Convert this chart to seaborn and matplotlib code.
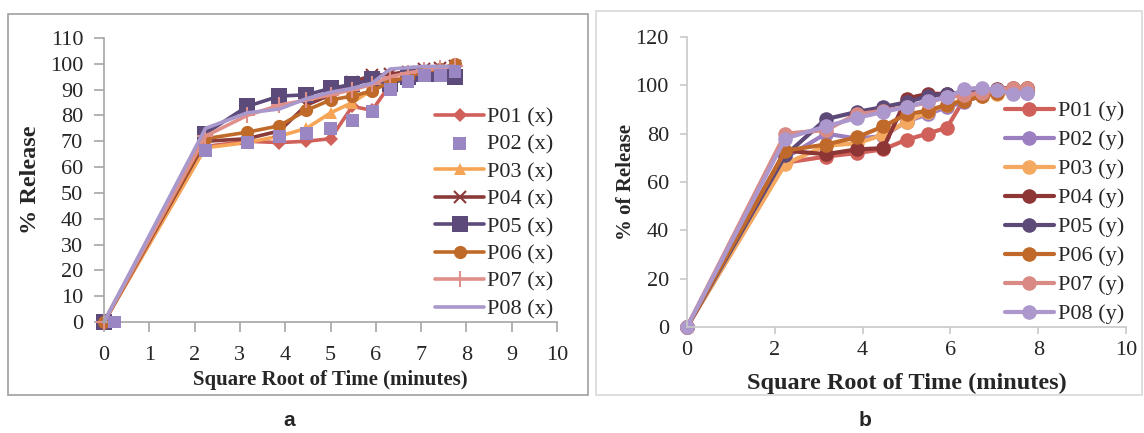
import matplotlib
matplotlib.use("Agg")
import matplotlib.pyplot as plt
import seaborn as sns
from matplotlib.patches import Rectangle

sns.set_style("white")
plt.rcParams['font.family'] = ['Liberation Serif', 'DejaVu Serif']

# square root of time (minutes) for the sampling points
sqrt_time = [0, 2.24, 3.16, 3.87, 4.47, 5.0, 5.48, 5.92, 6.32, 6.71, 7.07, 7.42, 7.75]
sqrt_time_p02 = [0.24, 2.24, 3.16, 3.87, 4.47, 5.0, 5.48, 5.92, 6.32, 6.71, 7.07, 7.42, 7.75]

# panel a: % release (x formulations)
rel_x = {
    "P01": [0, 68, 70, 69.5, 70, 71, 83.5, 82, 92, 95, 97, 98, 99.5],
    "P02": [0, 66.5, 69.5, 72, 73, 75, 78, 81.5, 90, 93, 95.5, 95.5, 97],
    "P03": [0, 67.5, 69.5, 72, 75, 81, 85, 90, 93, 95, 97, 98, 99],
    "P04": [0, 70, 71, 74, 84, 88, 93, 95.5, 96, 97, 98, 98.5, 99],
    "P05": [0, 73, 83.5, 87.5, 88, 90.5, 92, 94, 92, 95, 96, 96, 95],
    "P06": [0, 71, 73.5, 76, 82, 86, 87.5, 89.5, 93, 95, 97, 98, 100],
    "P07": [0, 72, 80, 84, 86, 88, 90, 92, 95, 96.5, 97.5, 98.5, 99],
    "P08": [0, 75, 81, 82.5, 86.5, 89, 90.5, 92.5, 98, 98.5, 99, 99, 99],
}

# panel b: % of release (y formulations)
rel_y = {
    "P01": [0, 68, 70.5, 72, 73.5, 77.5, 80, 82.5, 94.5, 96.5, 97.5, 98.5, 98.5],
    "P02": [0, 70, 80, 78, 79, 85, 88, 91, 93, 96, 97, 97, 97],
    "P03": [0, 67.5, 75, 76, 79.5, 85, 89, 92, 94, 95.5, 96.5, 97, 98],
    "P04": [0, 73, 71.5, 73.5, 74, 94.5, 96.5, 96.5, 97, 98, 98.5, 99, 99],
    "P05": [0, 71, 86, 89, 91, 93, 95.5, 96.5, 97, 98, 98, 98.5, 98],
    "P06": [0, 73, 75.5, 78.5, 83, 88, 89.5, 92, 93.5, 95.5, 97, 98, 99],
    "P07": [0, 80, 81.5, 88, 89.5, 91, 93, 95, 96, 97, 98, 99, 99],
    "P08": [0, 78, 83, 86.5, 89, 91, 93.5, 95, 98.5, 99, 98, 96.5, 97],
}

colors_a = {"P01": "#D0605A", "P02": "#9A86C2", "P03": "#F5A555", "P04": "#8B3A3A",
            "P05": "#5C4A7A", "P06": "#C06A2A", "P07": "#E0908A", "P08": "#A898CC"}
markers_a = {"P01": "D", "P02": "s", "P03": "^", "P04": "x",
             "P05": "s", "P06": "o", "P07": "+", "P08": None}
msize_a = {"P01": 7.5, "P02": 9, "P03": 9, "P04": 9, "P05": 11, "P06": 9.5, "P07": 11, "P08": 0}
colors_b = {"P01": "#D0605A", "P02": "#9C7FC0", "P03": "#F4A860", "P04": "#8E3535",
            "P05": "#5E4A78", "P06": "#C0692A", "P07": "#DA8A85", "P08": "#AC98CC"}

fig = plt.figure(figsize=(11.44, 4.33), dpi=100)

# grey frames round each panel
fig.patches.append(Rectangle((8 / 1144, 1 - 395 / 433), 580 / 1144, 381 / 433,
                             transform=fig.transFigure, fill=False, ec="#A0A0A0", lw=1.2))
fig.patches.append(Rectangle((596 / 1144, 1 - 395 / 433), 546 / 1144, 384 / 433,
                             transform=fig.transFigure, fill=False, ec="#D8D8D8", lw=1.2))

ax1 = fig.add_axes([104 / 1144, 1 - 322 / 433, 453 / 1144, 284 / 433])
ax2 = fig.add_axes([687 / 1144, 1 - 327 / 433, 439 / 1144, 290 / 433])

for name, vals in rel_x.items():
    c = colors_a[name]
    if name == "P02":
        sns.scatterplot(x=sqrt_time_p02, y=vals, ax=ax1, color=c, marker="s",
                        s=85, edgecolor="none", label=f"{name} (x)", zorder=3, clip_on=False)
    else:
        thin = name in ("P04", "P07")
        sns.lineplot(x=sqrt_time, y=vals, ax=ax1, color=c, lw=2.6,
                     marker=markers_a[name], markersize=msize_a[name],
                     mec=c, mfc=c, mew=1.5 if thin else 0,
                     label=f"{name} (x)", zorder=2, clip_on=False)

for name, vals in rel_y.items():
    c = colors_b[name]
    sns.lineplot(x=sqrt_time, y=vals, ax=ax2, color=c, lw=3,
                 marker="o", markersize=10.5, mec=c, mfc=c, mew=0,
                 label=f"{name} (y)", zorder=2, clip_on=False)

ax1.set_xlim(0, 10)
ax1.set_ylim(0, 110)
ax1.set_xticks(range(0, 11))
ax1.set_yticks(range(0, 111, 10))
ax2.set_xlim(0, 10)
ax2.set_ylim(0, 120)
ax2.set_xticks(range(0, 11, 2))
ax2.set_yticks(range(0, 121, 20))

for ax, spc, tl in ((ax1, "#A6A6A6", 7), (ax2, "#C8C8C8", 5)):
    ax.set_facecolor("none")
    for s in ("top", "right"):
        ax.spines[s].set_visible(False)
    for s in ("left", "bottom"):
        ax.spines[s].set_color(spc)
        ax.spines[s].set_linewidth(1.2)
    ax.tick_params(axis="both", direction="out", length=tl, width=1.2, color=spc,
                   labelsize=16, pad=8, bottom=True, left=True)

ax1.xaxis.set_tick_params(pad=10)
ax2.xaxis.set_tick_params(pad=5)

ax1.set_xlabel("Square Root of Time (minutes)", fontsize=15, fontweight="bold", labelpad=4)
ax2.set_xlabel("Square Root of Time (minutes)", fontsize=17.5, fontweight="bold", labelpad=9)
ax1.set_ylabel("% Release", fontsize=17.5, fontweight="bold", labelpad=6)
ax2.set_ylabel("% of Release", fontsize=15, fontweight="bold", labelpad=0)

ax1.legend(loc="upper left", bbox_to_anchor=(0.731, 0.758), frameon=False, fontsize=16,
           handlelength=2.2, handletextpad=0.15, labelspacing=0.31, borderpad=0,
           borderaxespad=0)
ax2.legend(loc="upper left", bbox_to_anchor=(0.724, 0.78), frameon=False, fontsize=16,
           handlelength=2.2, handletextpad=0.2, labelspacing=0.38, borderpad=0,
           borderaxespad=0)

fig.text(289 / 1144, 1 - 426 / 433, "a", fontsize=15, fontweight="bold",
         family=["Liberation Sans"], ha="center", va="baseline")
fig.text(865 / 1144, 1 - 426 / 433, "b", fontsize=15, fontweight="bold",
         family=["Liberation Sans"], ha="center", va="baseline")

fig.savefig("out.png", dpi=100)
